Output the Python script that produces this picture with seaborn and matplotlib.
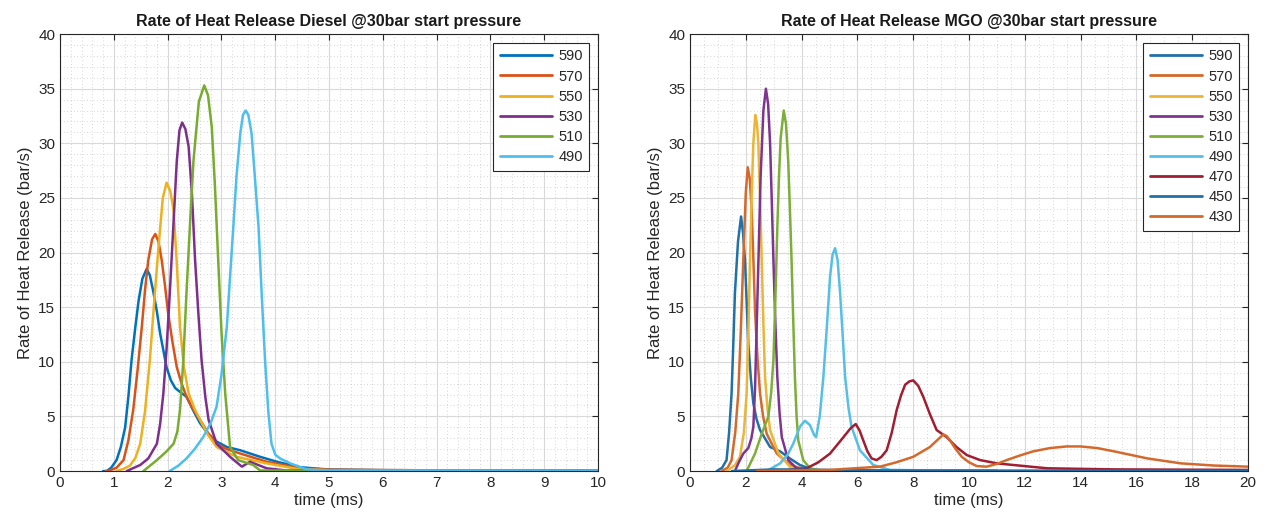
import pandas as pd
import seaborn as sns
import matplotlib.pyplot as plt
from matplotlib.ticker import MultipleLocator

# ---- Diesel (left) : time (ms) and rate of heat release (bar/s)
d590_t = [0.8, 0.87, 0.95, 1.05, 1.13, 1.21, 1.27, 1.33, 1.4, 1.46, 1.53, 1.61, 1.67, 1.73, 1.8, 1.86, 1.98, 2.06, 2.14, 2.24, 2.35, 2.47, 2.6, 2.75, 2.91, 3.1, 3.35, 3.72, 4.03, 4.46, 4.96, 6.0, 8.0, 10.0]
d590_v = [0.0, 0.0, 0.3, 1.0, 2.2, 4.0, 6.8, 10.2, 13.2, 15.6, 17.6, 18.5, 17.9, 16.5, 14.6, 12.6, 9.5, 8.3, 7.6, 7.2, 6.8, 5.6, 4.4, 3.4, 2.7, 2.2, 1.9, 1.3, 0.85, 0.35, 0.15, 0.08, 0.05, 0.03]
d570_t = [0.85, 0.9, 1.05, 1.18, 1.27, 1.36, 1.44, 1.52, 1.58, 1.64, 1.71, 1.77, 1.83, 1.89, 1.95, 2.01, 2.09, 2.17, 2.26, 2.35, 2.47, 2.6, 2.75, 2.91, 3.1, 3.35, 3.84, 4.46, 5.0, 7.0, 10.0]
d570_v = [0.0, 0.0, 0.3, 1.0, 2.8, 5.6, 9.2, 13.2, 16.6, 19.3, 21.2, 21.7, 21.0, 19.3, 17.0, 14.4, 11.8, 9.5, 8.0, 6.8, 5.7, 4.7, 3.5, 2.5, 2.0, 1.6, 0.85, 0.25, 0.12, 0.06, 0.03]
d550_t = [1.05, 1.18, 1.3, 1.4, 1.49, 1.58, 1.67, 1.75, 1.83, 1.91, 1.98, 2.05, 2.11, 2.17, 2.23, 2.3, 2.39, 2.5, 2.6, 2.75, 2.91, 3.28, 3.84, 4.46, 5.0, 10.0]
d550_v = [0.0, 0.2, 0.5, 1.2, 2.5, 5.5, 10.2, 15.5, 20.5, 25.0, 26.4, 25.6, 23.9, 19.0, 13.2, 9.6, 7.1, 5.7, 4.7, 3.3, 2.2, 1.3, 0.7, 0.15, 0.08, 0.03]
d530_t = [1.24, 1.49, 1.64, 1.8, 1.86, 1.92, 1.98, 2.04, 2.11, 2.17, 2.22, 2.27, 2.33, 2.39, 2.45, 2.51, 2.57, 2.63, 2.7, 2.76, 2.91, 3.16, 3.38, 3.53, 3.84, 4.21, 5.0, 10.0]
d530_v = [0.0, 0.55, 1.15, 2.5, 4.3, 7.1, 11.2, 16.3, 22.8, 28.4, 31.2, 31.9, 31.3, 29.7, 25.5, 19.3, 14.5, 10.2, 6.8, 4.7, 2.5, 1.3, 0.4, 0.85, 0.25, 0.05, 0.03, 0.02]
d510_t = [1.55, 1.8, 1.98, 2.11, 2.18, 2.23, 2.29, 2.35, 2.42, 2.48, 2.58, 2.68, 2.75, 2.82, 2.88, 2.94, 3.0, 3.07, 3.16, 3.31, 3.59, 3.72, 5.0, 10.0]
d510_v = [0.0, 1.0, 1.8, 2.5, 3.6, 5.6, 10.0, 16.3, 23.0, 28.4, 33.8, 35.3, 34.4, 31.5, 26.0, 19.3, 12.8, 7.1, 2.2, 1.0, 0.55, 0.05, 0.03, 0.02]
d490_t = [2.04, 2.2, 2.35, 2.5, 2.66, 2.8, 2.91, 3.0, 3.1, 3.16, 3.22, 3.28, 3.35, 3.4, 3.45, 3.5, 3.56, 3.62, 3.69, 3.75, 3.81, 3.87, 3.93, 4.0, 4.09, 4.28, 4.58, 5.0, 10.0]
d490_v = [0.0, 0.5, 1.15, 2.0, 3.1, 4.4, 5.9, 8.8, 13.2, 17.8, 22.3, 27.0, 30.9, 32.6, 33.0, 32.6, 30.9, 27.0, 22.3, 16.0, 10.2, 5.5, 2.5, 1.5, 1.15, 0.7, 0.15, 0.05, 0.02]

# ---- MGO (right)
m590_t = [0.96, 1.15, 1.31, 1.4, 1.49, 1.55, 1.61, 1.72, 1.83, 1.9, 1.97, 2.03, 2.09, 2.18, 2.27, 2.38, 2.51, 2.87, 3.23, 3.58, 3.94, 4.42, 6.0, 11.0]
m590_v = [0.0, 0.3, 1.0, 3.5, 7.1, 11.5, 16.3, 21.0, 23.3, 21.8, 19.3, 15.5, 11.7, 8.5, 6.2, 4.8, 3.75, 2.2, 1.8, 1.15, 0.55, 0.1, 0.05, 0.02]
m570_t = [1.13, 1.35, 1.49, 1.62, 1.73, 1.82, 1.91, 2.0, 2.07, 2.14, 2.21, 2.27, 2.33, 2.42, 2.51, 2.62, 2.75, 3.11, 3.58, 4.18, 6.0, 10.0]
m570_v = [0.0, 0.3, 1.0, 3.5, 7.1, 12.8, 19.3, 25.5, 27.8, 26.8, 23.9, 19.5, 14.7, 10.3, 7.1, 5.0, 3.4, 1.6, 0.55, 0.1, 0.05, 0.02]
m550_t = [1.31, 1.6, 1.79, 1.93, 2.03, 2.09, 2.15, 2.21, 2.27, 2.34, 2.4, 2.45, 2.51, 2.57, 2.63, 2.69, 2.78, 2.87, 3.17, 3.58, 4.06, 8.0]
m550_v = [0.0, 0.5, 1.3, 3.5, 7.1, 12.5, 19.3, 25.2, 30.0, 32.6, 31.8, 30.0, 25.0, 19.3, 13.5, 8.6, 5.6, 3.75, 1.6, 0.4, 0.05, 0.02]
m530_t = [1.61, 1.75, 1.91, 2.09, 2.2, 2.27, 2.33, 2.39, 2.46, 2.53, 2.63, 2.72, 2.8, 2.87, 2.93, 2.99, 3.06, 3.13, 3.21, 3.29, 3.52, 3.82, 4.18, 8.0]
m530_v = [0.0, 0.8, 1.6, 2.1, 3.0, 4.05, 7.5, 13.2, 20.0, 26.9, 33.0, 35.0, 33.6, 30.0, 24.8, 19.3, 13.5, 8.6, 5.3, 3.1, 1.0, 0.25, 0.05, 0.02]
m510_t = [2.03, 2.33, 2.57, 2.81, 2.91, 2.99, 3.06, 3.13, 3.19, 3.25, 3.36, 3.44, 3.52, 3.58, 3.64, 3.7, 3.76, 3.82, 3.88, 4.06, 4.3, 4.66, 8.0]
m510_v = [0.0, 1.6, 3.4, 5.0, 7.2, 10.2, 15.8, 22.3, 27.0, 30.5, 33.0, 31.8, 28.4, 24.0, 19.3, 13.8, 8.6, 5.0, 2.8, 1.0, 0.25, 0.05, 0.02]
m490_t = [2.75, 3.23, 3.5, 3.7, 3.95, 4.12, 4.3, 4.45, 4.52, 4.65, 4.78, 4.9, 5.02, 5.11, 5.2, 5.29, 5.38, 5.47, 5.56, 5.68, 5.79, 6.09, 6.57, 7.17, 9.0, 11.0]
m490_v = [0.0, 0.7, 1.5, 2.5, 4.1, 4.6, 4.2, 3.3, 3.1, 5.0, 8.6, 13.0, 17.8, 19.8, 20.4, 19.3, 16.3, 12.5, 8.6, 5.8, 4.05, 1.9, 0.55, 0.1, 0.05, 0.03]
m470_t = [2.4, 3.5, 4.18, 4.6, 5.02, 5.5, 5.75, 5.94, 6.08, 6.21, 6.36, 6.51, 6.69, 6.86, 7.05, 7.23, 7.41, 7.56, 7.71, 7.86, 8.0, 8.18, 8.36, 8.6, 8.84, 9.2, 9.55, 9.92, 10.4, 11.0, 12.8, 15.2, 20.0]
m470_v = [0.0, 0.1, 0.25, 0.8, 1.6, 3.1, 3.9, 4.3, 3.7, 2.8, 1.8, 1.15, 1.0, 1.3, 1.9, 3.5, 5.6, 6.9, 7.9, 8.2, 8.3, 7.8, 6.8, 5.2, 3.75, 3.1, 2.2, 1.46, 1.0, 0.7, 0.25, 0.15, 0.1]
m450_t = [1.5, 3.0, 5.0, 8.0, 11.0, 20.0]
m450_v = [0.0, 0.15, 0.08, 0.05, 0.04, 0.02]
m430_t = [2.4, 5.0, 6.81, 7.4, 8.0, 8.6, 8.85, 9.08, 9.2, 9.32, 9.5, 9.74, 10.0, 10.28, 10.63, 11.0, 11.35, 11.8, 12.3, 12.9, 13.5, 14.0, 14.6, 15.2, 16.4, 17.6, 18.8, 20.0]
m430_v = [0.0, 0.1, 0.4, 0.8, 1.3, 2.2, 2.8, 3.35, 3.2, 2.8, 2.1, 1.3, 0.8, 0.45, 0.4, 0.65, 1.0, 1.4, 1.8, 2.1, 2.25, 2.25, 2.1, 1.8, 1.15, 0.7, 0.5, 0.4]

diesel_labels = ["590", "570", "550", "530", "510", "490"]
diesel_series = [(d590_t, d590_v), (d570_t, d570_v), (d550_t, d550_v),
                 (d530_t, d530_v), (d510_t, d510_v), (d490_t, d490_v)]
mgo_labels = ["590", "570", "550", "530", "510", "490", "470", "450", "430"]
mgo_series = [(m590_t, m590_v), (m570_t, m570_v), (m550_t, m550_v),
              (m530_t, m530_v), (m510_t, m510_v), (m490_t, m490_v),
              (m470_t, m470_v), (m450_t, m450_v), (m430_t, m430_v)]

matlab = ["#0072BD", "#D95319", "#EDB120", "#7E2F8E", "#77AC30", "#4DBEEE", "#A2142F"]
mgo_cols = ["#2270A8", "#D4692C", "#EBB538", "#7E3490", "#7DAE3A", "#56BFE6", "#A11E32", "#2270A8", "#D4692C"]


def to_frame(labels, series):
    rows = []
    for lab, (t, v) in zip(labels, series):
        rows.append(pd.DataFrame({"t": t, "v": v, "T": lab}))
    return pd.concat(rows, ignore_index=True)


def draw(ax, df, labels, colors, xmax, xmajor, xminor, title):
    sns.lineplot(data=df, x="t", y="v", hue="T", hue_order=labels,
                 palette=dict(zip(labels, colors)), estimator=None,
                 sort=True, linewidth=1.8, ax=ax)
    ax.set_xlim(0, xmax)
    ax.set_ylim(0, 40)
    ax.xaxis.set_major_locator(MultipleLocator(xmajor))
    ax.xaxis.set_minor_locator(MultipleLocator(xminor))
    ax.yaxis.set_major_locator(MultipleLocator(5))
    ax.yaxis.set_minor_locator(MultipleLocator(1))
    ax.grid(which="major", color="#d9d9d9", linewidth=0.8)
    ax.grid(which="minor", color="#c8c8c8", linestyle=(0, (1, 3)), linewidth=0.6)
    ax.set_axisbelow(True)
    ax.tick_params(which="both", direction="in", top=True, right=True,
                   colors="#262626", labelsize=11, length=4)
    ax.tick_params(which="minor", length=0)
    for s in ax.spines.values():
        s.set_color("#262626")
        s.set_linewidth(0.8)
    ax.set_xlabel("time (ms)", fontsize=12, color="#262626", labelpad=2)
    ax.set_ylabel("Rate of Heat Release (bar/s)", fontsize=12, color="#262626", labelpad=4)
    ax.set_title(title, fontsize=11.5, fontweight="bold", color="#1a1a1a", pad=6)
    leg = ax.legend(loc="upper right", fontsize=10.5, handlelength=3.6,
                    fancybox=False, framealpha=1, edgecolor="#262626",
                    borderpad=0.45, labelspacing=0.42, handletextpad=0.4,
                    borderaxespad=0.6)
    leg.get_frame().set_linewidth(0.8)
    for line in leg.get_lines():
        line.set_linewidth(2.0)


sns.set_style("white")
plt.rcParams["font.family"] = ["Liberation Sans", "DejaVu Sans"]

fig = plt.figure(figsize=(12.67, 5.29), dpi=100)
ax1 = fig.add_axes([0.0474, 0.1096, 0.4246, 0.826])
ax2 = fig.add_axes([0.5446, 0.1096, 0.4404, 0.826])

draw(ax1, to_frame(diesel_labels, diesel_series), diesel_labels, matlab[:6],
     10, 1, 0.2, "Rate of Heat Release Diesel @30bar start pressure")
draw(ax2, to_frame(mgo_labels, mgo_series), mgo_labels, mgo_cols,
     20, 2, 0.5, "Rate of Heat Release MGO @30bar start pressure")

fig.savefig("out.png", dpi=100)
